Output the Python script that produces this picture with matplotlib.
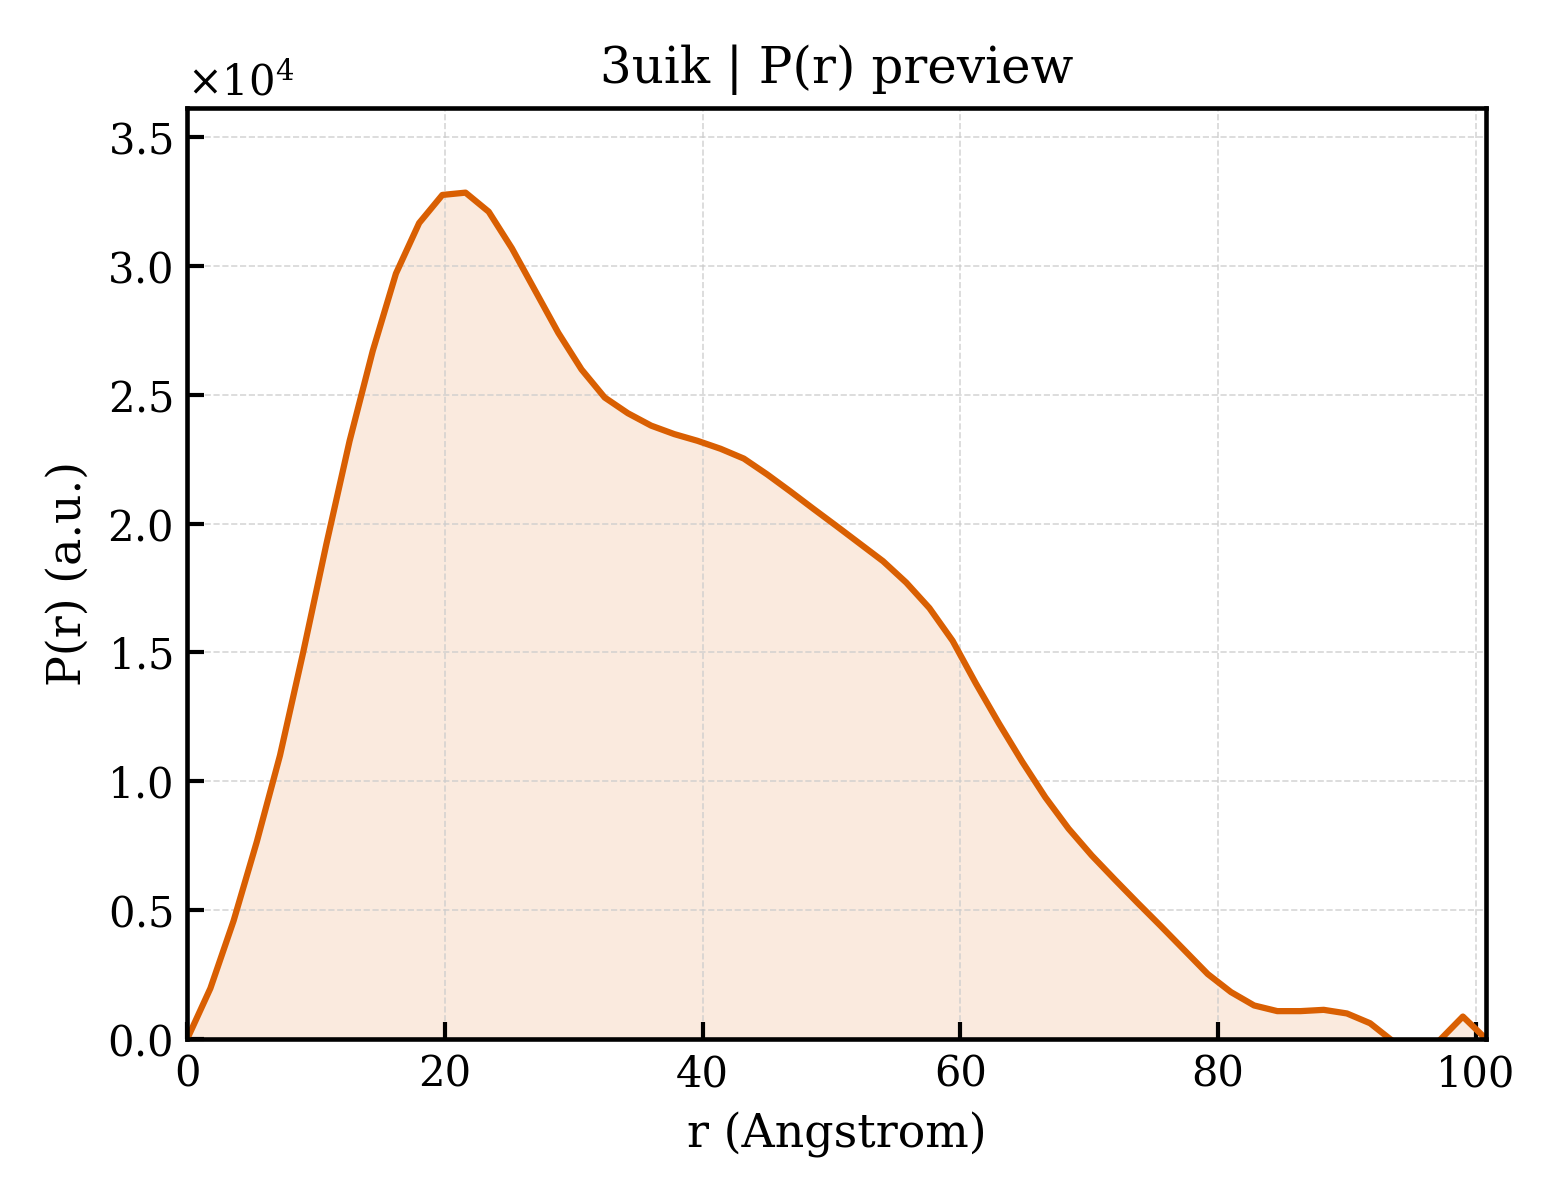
import numpy as np
import matplotlib
matplotlib.use("Agg")
import matplotlib.pyplot as plt

# P(r) values (57 points, r from 0 to Dmax)
dmax = 100.8
pr = np.array([
    0, 1965, 4585, 7650, 11000, 15000, 19200, 23200, 26700, 29700,
    31660, 32750, 32840, 32100, 30680, 29040, 27400, 25980, 24890, 24280,
    23800, 23470, 23210, 22900, 22520, 21910, 21250, 20570, 19900, 19220,
    18540, 17710, 16720, 15450, 13800, 12240, 10760, 9375, 8160, 7120,
    6180, 5260, 4360, 3440, 2520, 1820, 1300, 1080, 1080, 1130,
    990, 610, -100, -600, -50, 870, 0,
])
r = np.linspace(0, dmax, len(pr))

plt.rcParams['font.family'] = 'DejaVu Serif'
plt.rcParams['mathtext.fontset'] = 'dejavuserif'

fig = plt.figure(figsize=(5.2, 4), dpi=300)
ax = fig.add_axes([0.12, 0.1342, 0.8326, 0.7758])

color = '#D95F02'
ax.fill_between(r, pr, 0, color=color, alpha=0.13, linewidth=0)
ax.plot(r, pr, color=color, linewidth=1.5)

ax.set_xlim(0, dmax)
ax.set_ylim(0, pr.max() * 1.1)
ax.set_title('3uik | P(r) preview', fontsize=12)
ax.set_xlabel('r (Angstrom)', fontsize=11)
ax.set_ylabel('P(r) (a.u.)', fontsize=11)
ax.ticklabel_format(axis='y', style='sci', scilimits=(0, 0), useMathText=True)
ax.yaxis.get_offset_text().set_fontsize(10)
ax.tick_params(direction='in', labelsize=10, width=1, length=4)
ax.grid(True, linestyle='--', linewidth=0.4, color='#cccccc', alpha=0.8)
for s in ax.spines.values():
    s.set_linewidth(1.1)

fig.savefig('out.png', dpi=300)
